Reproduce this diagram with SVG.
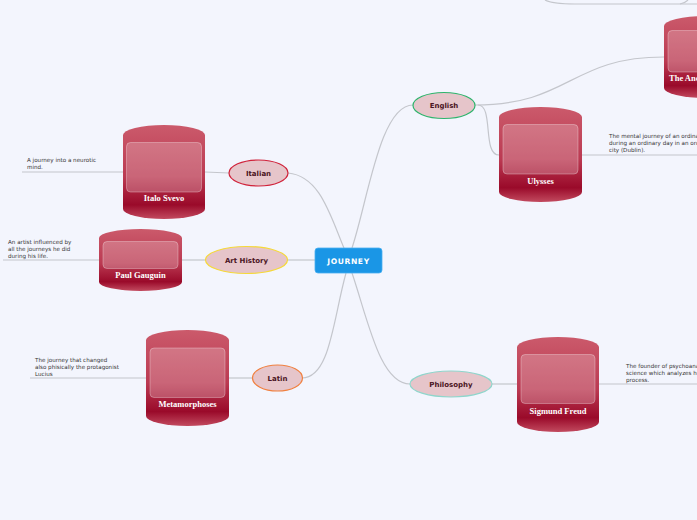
<svg xmlns="http://www.w3.org/2000/svg" width="697" height="520" viewBox="0 0 697 520">
<style>
.conn{fill:none;stroke:#c4c6cc;stroke-width:1.2}
.sub{fill:#e6c5ca;stroke-width:1.2}
.subt{font-family:"DejaVu Sans",Verdana,sans-serif;font-size:7px;font-weight:bold;fill:#4a1422;text-anchor:middle}
.cyl{fill:url(#cylg)}
.inner{fill:#ffffff;fill-opacity:0.22;stroke:#ffffff;stroke-opacity:0.3;stroke-width:1}
.cylt{font-family:"Liberation Serif","Times New Roman",serif;font-size:8.5px;font-weight:bold;fill:#ffffff;text-anchor:middle}
.desc{font-family:"DejaVu Sans",Verdana,sans-serif;font-size:5.6px;fill:#333333}
</style>
<defs>
<linearGradient id="cylg" x1="0" y1="0" x2="0" y2="1">
<stop offset="0" stop-color="#cb5a6b"/>
<stop offset="0.55" stop-color="#bb3a52"/>
<stop offset="0.85" stop-color="#9a0a2a"/>
<stop offset="1" stop-color="#c24a5f"/>
</linearGradient>
</defs>
<rect width="697" height="520" fill="#f3f5fd"/>
<g id="connectors">
<path class="conn" d="M288,173 C320,176 330,215 344,248"/>
<path class="conn" d="M352,248 C368,200 380,105 413,105"/>
<path class="conn" d="M288,260 L315,260"/>
<path class="conn" d="M346,273 C333,320 330,378 302,378"/>
<path class="conn" d="M352,273 C368,320 380,384 410,384"/>
<path class="conn" d="M475,105 C570,105 570,57 664,57"/>
<path class="conn" d="M478,105 C494,105 482,155 499,155"/>
<path class="conn" d="M205,172 L229,173"/>
<path class="conn" d="M182,260 L205,260"/>
<path class="conn" d="M229,378 L252,378"/>
<path class="conn" d="M492,384 L517,384"/>
<path class="conn" d="M22,172 L123,172"/>
<path class="conn" d="M3,260 L99,260"/>
<path class="conn" d="M30,378 L146,378"/>
<path class="conn" d="M582,155 L697,155"/>
<path class="conn" d="M599,384 L697,384"/>
<path class="conn" d="M545,0 Q552,4 575,4 L697,4"/>
<path class="conn" d="M680,4 Q685,3 688,0"/>
</g>
<g id="journey">
<rect x="315" y="248" width="67" height="25" rx="3" fill="#1a96e6" stroke="#4aaef0" stroke-width="0.8"/>
<text x="348.5" y="263.5" font-family="'DejaVu Sans',Verdana,sans-serif" font-size="7.6px" font-weight="bold" fill="#ffffff" text-anchor="middle" letter-spacing="0.6">JOURNEY</text>
</g>
<g id="italian">
<ellipse class="sub" cx="258.5" cy="173" rx="29.5" ry="13" stroke="#d0223a"/>
<text class="subt" x="258.5" y="175.5">Italian</text>
</g>
<g id="art-history">
<ellipse class="sub" cx="246.5" cy="260" rx="41" ry="13.5" stroke="#f5d93a"/>
<text class="subt" x="246.5" y="262.5">Art History</text>
</g>
<g id="latin">
<ellipse class="sub" cx="277.5" cy="378" rx="25" ry="13" stroke="#f08040"/>
<text class="subt" x="277.5" y="380.5">Latin</text>
</g>
<g id="english">
<ellipse class="sub" cx="444" cy="105.5" rx="31" ry="13" stroke="#2db46c"/>
<text class="subt" x="444" y="108">English</text>
</g>
<g id="philosophy">
<ellipse class="sub" cx="451" cy="384" rx="41" ry="13" stroke="#8fd6cc"/>
<text class="subt" x="451" y="386.5">Philosophy</text>
</g>
<g id="italo-svevo">
<path class="cyl" d="M123,135 A41,10 0 0 1 205,135 L205,209 A41,10 0 0 1 123,209 Z"/>
<rect class="inner" x="126.5" y="142.5" width="75" height="49.5" rx="4"/>
<text class="cylt" x="164" y="201">Italo Svevo</text>
<text class="desc" x="27" y="162">A journey into a neurotic</text>
<text class="desc" x="27" y="169">mind.</text>
</g>
<g id="paul-gauguin">
<path class="cyl" d="M99,238 A41.5,9 0 0 1 182,238 L182,282 A41.5,9 0 0 1 99,282 Z"/>
<rect class="inner" x="103" y="241.5" width="75" height="27" rx="4"/>
<text class="cylt" x="140.5" y="277.5">Paul Gauguin</text>
<text class="desc" x="8" y="243.5">An artist influenced by</text>
<text class="desc" x="8" y="250.5">all the journeys he did</text>
<text class="desc" x="8" y="257.5">during his life.</text>
</g>
<g id="metamorphoses">
<path class="cyl" d="M146,340 A41.5,10 0 0 1 229,340 L229,416 A41.5,10 0 0 1 146,416 Z"/>
<rect class="inner" x="150" y="348" width="75" height="49.5" rx="4"/>
<text class="cylt" x="187.5" y="407">Metamorphoses</text>
<text class="desc" x="35" y="361.5">The journey that changed</text>
<text class="desc" x="35" y="368.5">also phisically the protagonist</text>
<text class="desc" x="35" y="375.5">Lucius</text>
</g>
<g id="ulysses">
<path class="cyl" d="M499,117 A41.5,10 0 0 1 582,117 L582,192 A41.5,10 0 0 1 499,192 Z"/>
<rect class="inner" x="503" y="124.5" width="75" height="49.5" rx="4"/>
<text class="cylt" x="540.5" y="183.5">Ulysses</text>
<text class="desc" x="609" y="137.5">The mental journey of an ordinary</text>
<text class="desc" x="609" y="144.5">during an ordinary day in an ordinary</text>
<text class="desc" x="609" y="151.5">city (Dublin).</text>
</g>
<g id="sigmund-freud">
<path class="cyl" d="M517,347 A41,10 0 0 1 599,347 L599,422 A41,10 0 0 1 517,422 Z"/>
<rect class="inner" x="521" y="354.5" width="74" height="49" rx="4"/>
<text class="cylt" x="558" y="413.5">Sigmund Freud</text>
<text class="desc" x="626" y="367.5">The founder of psychoanalysis,</text>
<text class="desc" x="626" y="374.5">science which analyzes human</text>
<text class="desc" x="626" y="381.5">process.</text>
</g>
<g id="the-ancient">
<path class="cyl" d="M664,26 A41.5,10 0 0 1 747,26 L747,88 A41.5,10 0 0 1 664,88 Z"/>
<rect class="inner" x="668" y="30.5" width="75" height="41.5" rx="4"/>
<text class="cylt" x="669" y="80.5" style="text-anchor:start">The Anc</text>
</g>
</svg>
